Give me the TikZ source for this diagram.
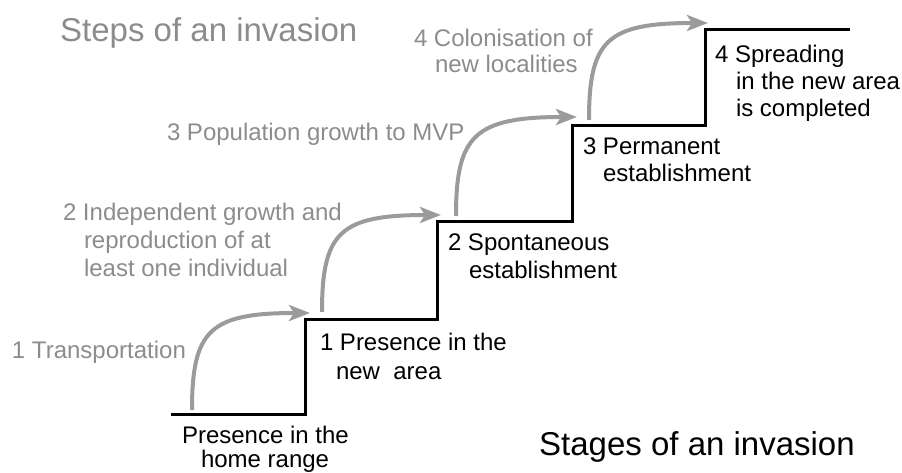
\documentclass[tikz,border=0pt]{standalone}
\usepackage{fontspec}
\setmainfont{Liberation Sans}
\usetikzlibrary{arrows.meta}
\definecolor{lblgray}{RGB}{140,140,140}
\definecolor{arrgray}{RGB}{155,155,155}
\tikzset{
  lbl/.style={anchor=base west, inner sep=0pt, outer sep=0pt, font=\fontsize{24}{24}\selectfont},
  steplbl/.style={lbl, text=lblgray},
  stagelbl/.style={lbl, text=black},
  bigtitle/.style={anchor=base west, inner sep=0pt, font=\fontsize{33}{33}\selectfont},
  stairs/.style={line width=3pt, black, line join=miter},
  steparrow/.style={line width=4pt, arrgray, -{Stealth[length=21pt, width=16pt, inset=5pt]}},
}
\begin{document}
\begin{tikzpicture}[x=1pt, y=-1pt]
\useasboundingbox (0,0) rectangle (902,473);

% staircase
\coordinate (p0) at (171,414);
\coordinate (p1) at (305,414);
\coordinate (p2) at (305,319);
\coordinate (p3) at (437,319);
\coordinate (p4) at (437,222);
\coordinate (p5) at (572,222);
\coordinate (p6) at (572,126);
\coordinate (p7) at (705,126);
\coordinate (p8) at (705,30);
\coordinate (p9) at (850,30);
\draw[stairs] (p0) -- (p1) -- (p2) -- (p3) -- (p4) -- (p5) -- (p6) -- (p7) -- (p8) -- (p9);

% arrows
\coordinate (a1s) at (192,410); \coordinate (a1e) at (310,313);
\coordinate (a2s) at (322,312); \coordinate (a2e) at (441,215);
\coordinate (a3s) at (456,216); \coordinate (a3e) at (577,117);
\coordinate (a4s) at (589,120); \coordinate (a4e) at (708,23);
\foreach \i in {1,2,3,4}{
  \draw[steparrow] (a\i s) .. controls ([shift={(0,-80)}]a\i s) and ([shift={(18,0)}]a\i e -| a\i s) .. (a\i e);
}

% titles
\node[bigtitle, text=lblgray] (steps) at (60,42) {Steps of an invasion};
\node[bigtitle, text=black] (stages) at (539,455) {Stages of an invasion};

% steps (gray)
\node[steplbl] (t1) at (12,358) {1 Transportation};
\node[steplbl] (t2a) at (63,221) {2 Independent growth and};
\node[steplbl] (t2b) at (84,248) {reproduction of at};
\node[steplbl] (t2c) at (84,276) {least one individual};
\node[steplbl] (t3) at (167,141) {3 Population growth to MVP};
\node[steplbl] (t4a) at (414,47) {4 Colonisation of};
\node[steplbl] (t4b) at (435,73) {new localities};

% stages (black)
\node[stagelbl] (s0a) at (182,443) {Presence in the};
\node[stagelbl] (s0b) at (201,467.5) {home range};
\node[stagelbl] (s1a) at (320,350) {1 Presence in the};
\node[stagelbl] (s1b) at (336,379) {new\ \ area};
\node[stagelbl] (s2a) at (448,250) {2 Spontaneous};
\node[stagelbl] (s2b) at (469,278) {establishment};
\node[stagelbl] (s3a) at (583,155) {3 Permanent};
\node[stagelbl] (s3b) at (603,182) {establishment};
\node[stagelbl] (s4a) at (715,63) {4 Spreading};
\node[stagelbl] (s4b) at (736,90) {in the new area};
\node[stagelbl] (s4c) at (736,117) {is completed};
\end{tikzpicture}
\end{document}
